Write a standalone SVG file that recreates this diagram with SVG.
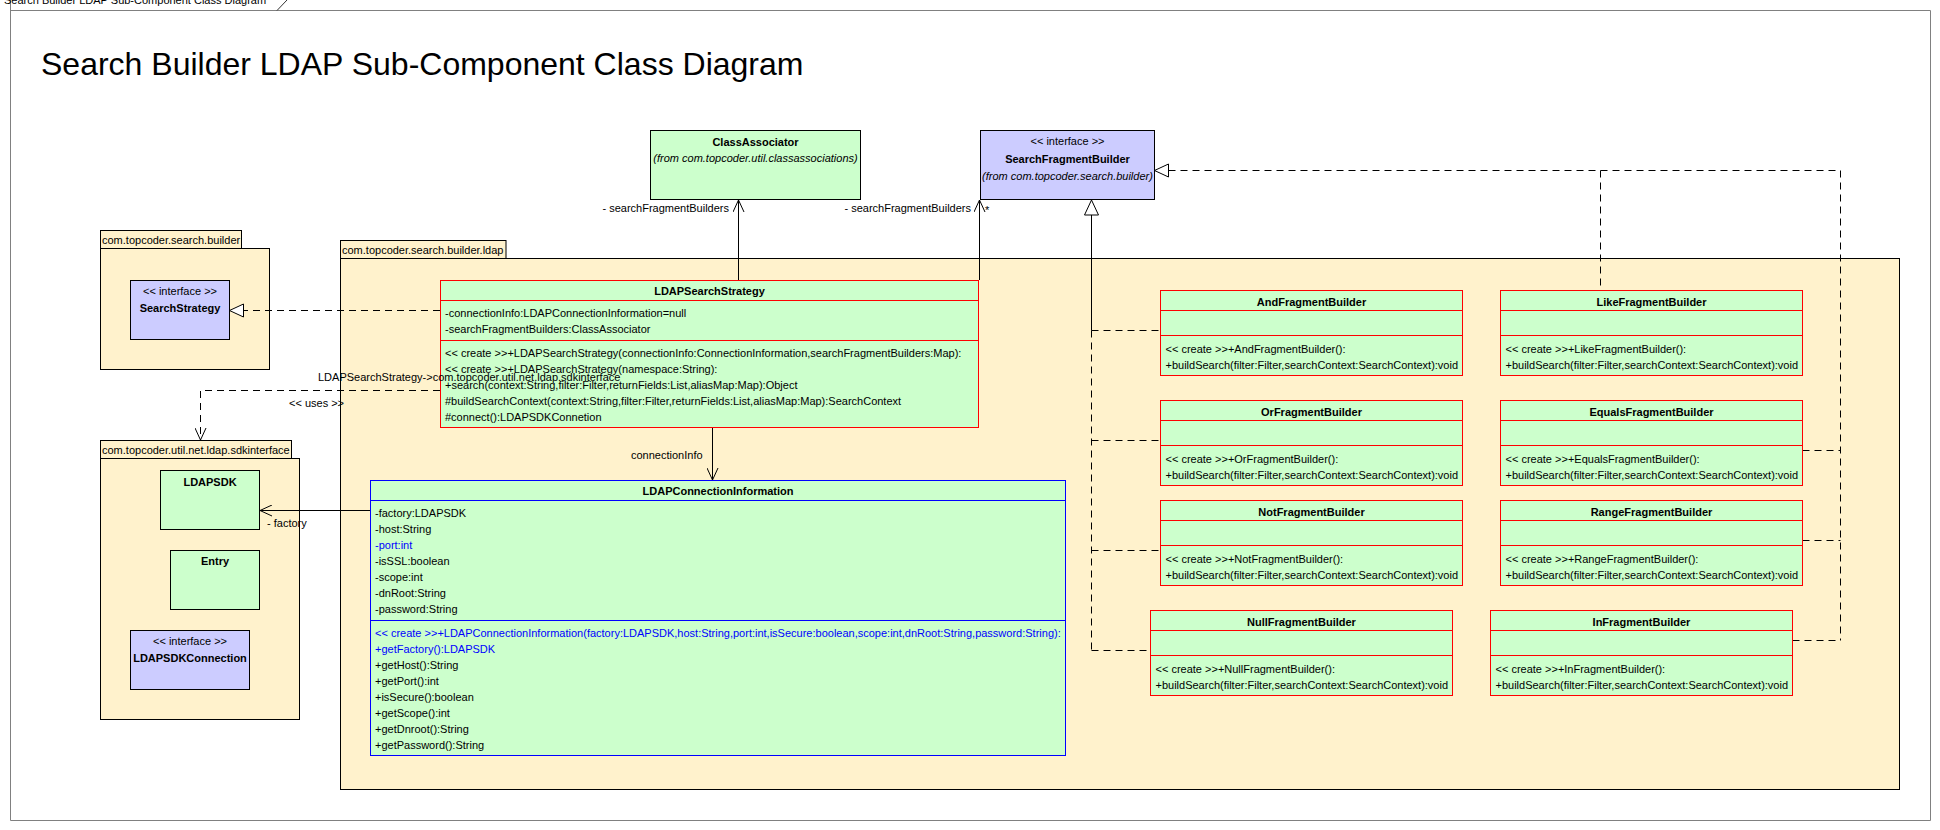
<svg xmlns="http://www.w3.org/2000/svg" width="1940" height="830" viewBox="0 0 1940 830">
<style>
text { font-family: "Liberation Sans", Arial, sans-serif; font-size: 11px; fill: #000; }
.b { font-weight: bold; }
.i { font-style: italic; }
.c { text-anchor: middle; }
.e { text-anchor: end; }
.blue { fill: #0000FF; }
.pkg { fill: #FFF2CC; stroke: #000; stroke-width: 1; }
.cr { fill: #CCFFCC; stroke: #FF0000; stroke-width: 1; }
.cb { fill: #CCFFCC; stroke: #0000FF; stroke-width: 1; }
.ck { fill: #CCFFCC; stroke: #000; stroke-width: 1; }
.ifc { fill: #CCCCFF; stroke: #000; stroke-width: 1; }
.sepr { stroke: #FF0000; stroke-width: 1; }
.sepb { stroke: #0000FF; stroke-width: 1; }
.ln { stroke: #000; stroke-width: 1; fill: none; }
.dl { stroke: #000; stroke-width: 1; fill: none; stroke-dasharray: 7 5; }
.tri { stroke: #000; stroke-width: 1; fill: #fff; }
</style>
<defs>
<marker id="open" viewBox="0 0 14 12" refX="13" refY="6" markerWidth="14" markerHeight="12" markerUnits="userSpaceOnUse" orient="auto">
<path d="M1,0.5 L13,6 L1,11.5" fill="none" stroke="#000" stroke-width="1"/>
</marker>
</defs>
<rect x="0" y="0" width="1940" height="830" fill="#fff"/>
<g id="frame">
<path d="M10.5,-5 L10.5,820.5 L1930.5,820.5 L1930.5,10.5 L10.5,10.5" fill="none" stroke="#808080"/>
<path d="M277,10.5 L287,0" fill="none" stroke="#333"/>
<text x="4" y="4">Search Builder LDAP Sub-Component Class Diagram</text>
<text x="41" y="75" style="font-size:32px">Search Builder LDAP Sub-Component Class Diagram</text>
</g>
<g id="pkg-builder">
<rect class="pkg" x="100.5" y="230.5" width="141" height="18"/>
<rect class="pkg" x="100.5" y="248.5" width="169" height="121"/>
<text x="102" y="244">com.topcoder.search.builder</text>
</g>
<g id="pkg-ldap">
<rect class="pkg" x="340.5" y="240.5" width="165.5" height="18"/>
<rect class="pkg" x="340.5" y="258.5" width="1559" height="531"/>
<text x="342" y="254">com.topcoder.search.builder.ldap</text>
</g>
<g id="pkg-sdk">
<rect class="pkg" x="100.5" y="440.5" width="191" height="18"/>
<rect class="pkg" x="100.5" y="458.5" width="199" height="261"/>
<text x="102" y="454">com.topcoder.util.net.ldap.sdkinterface</text>
</g>
<g id="connectors">
<line class="ln" x1="738.5" y1="280" x2="738.5" y2="200" marker-end="url(#open)"/>
<text class="e" x="729" y="212">- searchFragmentBuilders</text>
<line class="ln" x1="979.5" y1="280" x2="979.5" y2="200" marker-end="url(#open)"/>
<text class="e" x="971" y="212">- searchFragmentBuilders</text>
<text x="985" y="214">*</text>
<line class="dl" x1="440" y1="310.5" x2="243.5" y2="310.5"/>
<path class="tri" d="M229.5,310.5 L243.5,304 L243.5,317 Z"/>
<path class="dl" d="M440,390.5 L200.5,390.5 L200.5,440" marker-end="url(#open)"/>
<text x="289" y="407">&lt;&lt;  uses  &gt;&gt;</text>
<line class="ln" x1="712.5" y1="428" x2="712.5" y2="480" marker-end="url(#open)"/>
<text x="631" y="459">connectionInfo</text>
<line class="ln" x1="370" y1="510.5" x2="260" y2="510.5" marker-end="url(#open)"/>
<text x="267" y="527">- factory</text>
<path class="tri" d="M1091.5,200 L1098.5,215 L1084.5,215 Z"/>
<line class="ln" x1="1091.5" y1="215" x2="1091.5" y2="330.5"/>
<line class="dl" x1="1091.5" y1="330.5" x2="1091.5" y2="650.5"/>
<line class="dl" x1="1091.5" y1="330.5" x2="1160" y2="330.5"/>
<line class="dl" x1="1091.5" y1="440.5" x2="1160" y2="440.5"/>
<line class="dl" x1="1091.5" y1="550.5" x2="1160" y2="550.5"/>
<line class="dl" x1="1091.5" y1="650.5" x2="1150" y2="650.5"/>
<path class="tri" d="M1154.5,170.5 L1168.5,164 L1168.5,177 Z"/>
<path class="dl" d="M1168.5,170.5 L1840.5,170.5 L1840.5,640.5"/>
<line class="dl" x1="1600.5" y1="170.5" x2="1600.5" y2="290"/>
<line class="dl" x1="1802.5" y1="450.5" x2="1840.5" y2="450.5"/>
<line class="dl" x1="1802.5" y1="540.5" x2="1840.5" y2="540.5"/>
<line class="dl" x1="1792.5" y1="640.5" x2="1840.5" y2="640.5"/>
</g>
<g id="SearchStrategy">
<rect class="ifc" x="130.5" y="280.5" width="99" height="59"/>
<text class="c" x="180" y="295">&lt;&lt; interface &gt;&gt;</text>
<text class="c b" x="180" y="312">SearchStrategy</text>
</g>
<g id="LDAPSDK">
<rect class="ck" x="160.5" y="470.5" width="99" height="59"/>
<text class="c b" x="210" y="486">LDAPSDK</text>
</g>
<g id="Entry">
<rect class="ck" x="170.5" y="550.5" width="89" height="59"/>
<text class="c b" x="215" y="565">Entry</text>
</g>
<g id="LDAPSDKConnection">
<rect class="ifc" x="130.5" y="630.5" width="119" height="59"/>
<text class="c" x="190" y="645">&lt;&lt; interface &gt;&gt;</text>
<text class="c b" x="190" y="662">LDAPSDKConnection</text>
</g>
<g id="ClassAssociator">
<rect class="ck" x="650.5" y="130.5" width="210" height="69"/>
<text class="c b" x="755.5" y="146">ClassAssociator</text>
<text class="c i" x="755.5" y="162">(from com.topcoder.util.classassociations)</text>
</g>
<g id="SearchFragmentBuilder">
<rect class="ifc" x="980.5" y="130.5" width="174" height="69"/>
<text class="c" x="1067.5" y="145">&lt;&lt; interface &gt;&gt;</text>
<text class="c b" x="1067.5" y="163">SearchFragmentBuilder</text>
<text class="c i" x="1067.5" y="180">(from com.topcoder.search.builder)</text>
</g>
<g id="LDAPSearchStrategy">
<rect class="cr" x="440.5" y="280.5" width="538" height="147"/>
<line class="sepr" x1="440.5" y1="300.5" x2="978.5" y2="300.5"/>
<line class="sepr" x1="440.5" y1="340.5" x2="978.5" y2="340.5"/>
<text class="c b" x="709.5" y="295">LDAPSearchStrategy</text>
<text x="445" y="317">-connectionInfo:LDAPConnectionInformation=null</text>
<text x="445" y="333">-searchFragmentBuilders:ClassAssociator</text>
<text x="445" y="357">&lt;&lt; create &gt;&gt;+LDAPSearchStrategy(connectionInfo:ConnectionInformation,searchFragmentBuilders:Map):</text>
<text x="445" y="373">&lt;&lt; create &gt;&gt;+LDAPSearchStrategy(namespace:String):</text>
<text x="445" y="389">+search(context:String,filter:Filter,returnFields:List,aliasMap:Map):Object</text>
<text x="445" y="405">#buildSearchContext(context:String,filter:Filter,returnFields:List,aliasMap:Map):SearchContext</text>
<text x="445" y="421">#connect():LDAPSDKConnetion</text>
</g>
<g id="LDAPConnectionInformation">
<rect class="cb" x="370.5" y="480.5" width="695" height="275"/>
<line class="sepb" x1="370.5" y1="500.5" x2="1065.5" y2="500.5"/>
<line class="sepb" x1="370.5" y1="620.5" x2="1065.5" y2="620.5"/>
<text class="c b" x="718" y="495">LDAPConnectionInformation</text>
<text x="375" y="517">-factory:LDAPSDK</text>
<text x="375" y="533">-host:String</text>
<text x="375" y="549" class="blue">-port:int</text>
<text x="375" y="565">-isSSL:boolean</text>
<text x="375" y="581">-scope:int</text>
<text x="375" y="597">-dnRoot:String</text>
<text x="375" y="613">-password:String</text>
<text x="375" y="637" class="blue">&lt;&lt; create &gt;&gt;+LDAPConnectionInformation(factory:LDAPSDK,host:String,port:int,isSecure:boolean,scope:int,dnRoot:String,password:String):</text>
<text x="375" y="653" class="blue">+getFactory():LDAPSDK</text>
<text x="375" y="669">+getHost():String</text>
<text x="375" y="685">+getPort():int</text>
<text x="375" y="701">+isSecure():boolean</text>
<text x="375" y="717">+getScope():int</text>
<text x="375" y="733">+getDnroot():String</text>
<text x="375" y="749">+getPassword():String</text>
</g>
<g id="AndFragmentBuilder" transform="translate(1160.5,290.5)">
<rect class="cr" x="0" y="0" width="302" height="85"/>
<line class="sepr" x1="0" y1="20" x2="302" y2="20"/>
<line class="sepr" x1="0" y1="45" x2="302" y2="45"/>
<text class="c b" x="151" y="15">AndFragmentBuilder</text>
<text x="5" y="62">&lt;&lt; create &gt;&gt;+AndFragmentBuilder():</text>
<text x="5" y="78">+buildSearch(filter:Filter,searchContext:SearchContext):void</text>
</g>
<g id="LikeFragmentBuilder" transform="translate(1500.5,290.5)">
<rect class="cr" x="0" y="0" width="302" height="85"/>
<line class="sepr" x1="0" y1="20" x2="302" y2="20"/>
<line class="sepr" x1="0" y1="45" x2="302" y2="45"/>
<text class="c b" x="151" y="15">LikeFragmentBuilder</text>
<text x="5" y="62">&lt;&lt; create &gt;&gt;+LikeFragmentBuilder():</text>
<text x="5" y="78">+buildSearch(filter:Filter,searchContext:SearchContext):void</text>
</g>
<g id="OrFragmentBuilder" transform="translate(1160.5,400.5)">
<rect class="cr" x="0" y="0" width="302" height="85"/>
<line class="sepr" x1="0" y1="20" x2="302" y2="20"/>
<line class="sepr" x1="0" y1="45" x2="302" y2="45"/>
<text class="c b" x="151" y="15">OrFragmentBuilder</text>
<text x="5" y="62">&lt;&lt; create &gt;&gt;+OrFragmentBuilder():</text>
<text x="5" y="78">+buildSearch(filter:Filter,searchContext:SearchContext):void</text>
</g>
<g id="EqualsFragmentBuilder" transform="translate(1500.5,400.5)">
<rect class="cr" x="0" y="0" width="302" height="85"/>
<line class="sepr" x1="0" y1="20" x2="302" y2="20"/>
<line class="sepr" x1="0" y1="45" x2="302" y2="45"/>
<text class="c b" x="151" y="15">EqualsFragmentBuilder</text>
<text x="5" y="62">&lt;&lt; create &gt;&gt;+EqualsFragmentBuilder():</text>
<text x="5" y="78">+buildSearch(filter:Filter,searchContext:SearchContext):void</text>
</g>
<g id="NotFragmentBuilder" transform="translate(1160.5,500.5)">
<rect class="cr" x="0" y="0" width="302" height="85"/>
<line class="sepr" x1="0" y1="20" x2="302" y2="20"/>
<line class="sepr" x1="0" y1="45" x2="302" y2="45"/>
<text class="c b" x="151" y="15">NotFragmentBuilder</text>
<text x="5" y="62">&lt;&lt; create &gt;&gt;+NotFragmentBuilder():</text>
<text x="5" y="78">+buildSearch(filter:Filter,searchContext:SearchContext):void</text>
</g>
<g id="RangeFragmentBuilder" transform="translate(1500.5,500.5)">
<rect class="cr" x="0" y="0" width="302" height="85"/>
<line class="sepr" x1="0" y1="20" x2="302" y2="20"/>
<line class="sepr" x1="0" y1="45" x2="302" y2="45"/>
<text class="c b" x="151" y="15">RangeFragmentBuilder</text>
<text x="5" y="62">&lt;&lt; create &gt;&gt;+RangeFragmentBuilder():</text>
<text x="5" y="78">+buildSearch(filter:Filter,searchContext:SearchContext):void</text>
</g>
<g id="NullFragmentBuilder" transform="translate(1150.5,610.5)">
<rect class="cr" x="0" y="0" width="302" height="85"/>
<line class="sepr" x1="0" y1="20" x2="302" y2="20"/>
<line class="sepr" x1="0" y1="45" x2="302" y2="45"/>
<text class="c b" x="151" y="15">NullFragmentBuilder</text>
<text x="5" y="62">&lt;&lt; create &gt;&gt;+NullFragmentBuilder():</text>
<text x="5" y="78">+buildSearch(filter:Filter,searchContext:SearchContext):void</text>
</g>
<g id="InFragmentBuilder" transform="translate(1490.5,610.5)">
<rect class="cr" x="0" y="0" width="302" height="85"/>
<line class="sepr" x1="0" y1="20" x2="302" y2="20"/>
<line class="sepr" x1="0" y1="45" x2="302" y2="45"/>
<text class="c b" x="151" y="15">InFragmentBuilder</text>
<text x="5" y="62">&lt;&lt; create &gt;&gt;+InFragmentBuilder():</text>
<text x="5" y="78">+buildSearch(filter:Filter,searchContext:SearchContext):void</text>
</g>
<g id="connector-labels">
<text x="318" y="381">LDAPSearchStrategy-&gt;com.topcoder.util.net.ldap.sdkinterface</text>
</g>
</svg>
